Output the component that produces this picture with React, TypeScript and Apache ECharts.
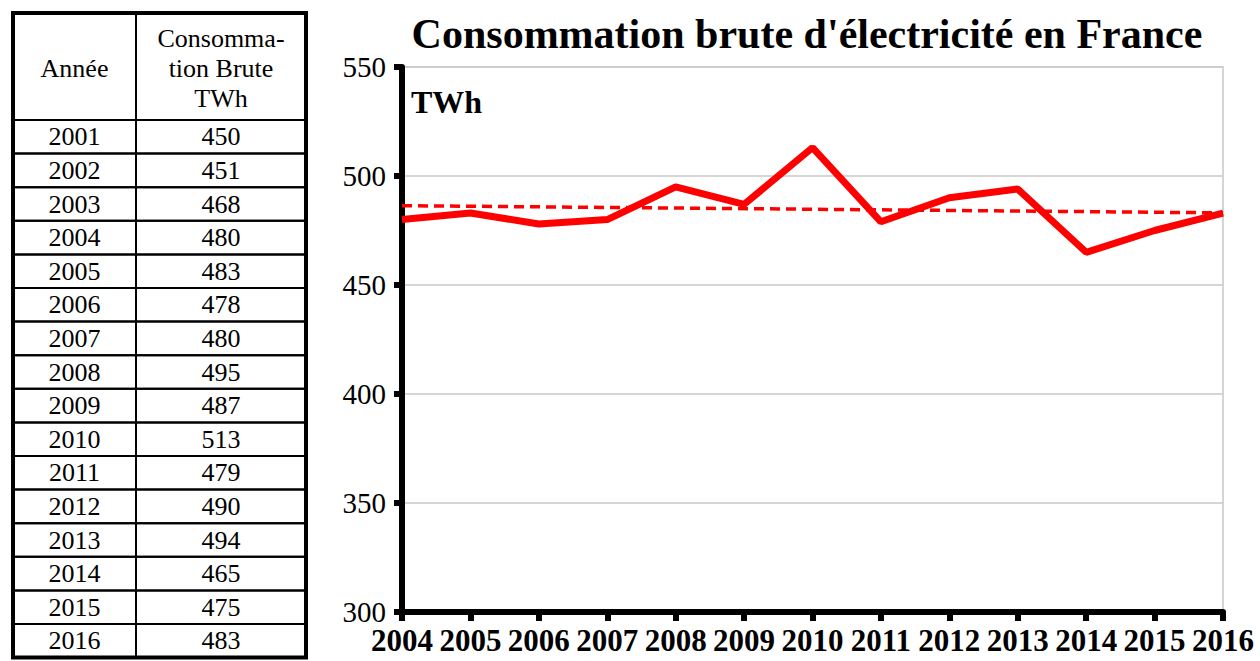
import React, { useEffect, useRef } from "react";
import * as echarts from "echarts";

// Table data (2001-2016)
const tableYears = ["2001","2002","2003","2004","2005","2006","2007","2008","2009","2010","2011","2012","2013","2014","2015","2016"];
const tableValues = [450, 451, 468, 480, 483, 478, 480, 495, 487, 513, 479, 490, 494, 465, 475, 483];
const headerYear = ["Année"];
const headerValue = ["Consomma-", "tion Brute", "TWh"];

// Chart data (2004-2016)
const chartYears = ["2004","2005","2006","2007","2008","2009","2010","2011","2012","2013","2014","2015","2016"];
const chartValues = [480, 483, 478, 480, 495, 487, 513, 479, 490, 494, 465, 475, 483];
// Linear trend line endpoints
const trendStart = 486.4;
const trendEnd = 483.1;

const title = "Consommation brute d'électricité en France";
const unitLabel = "TWh";

const FONT = "'Liberation Serif', 'DejaVu Serif', serif";

export default function App() {
  const ref = useRef<HTMLDivElement>(null);
  useEffect(() => {
    if (!ref.current) return;
    const chart = echarts.init(ref.current, null, { renderer: "svg" });

    const tL = 13, tR = 306, tC = 136, tTop = 13, hBot = 120, rowH = 33.6;
    const graphics: any[] = [];
    tableYears.forEach((y, i) => {
      const top = hBot + i * rowH;
      graphics.push({ type: "rect", shape: { x: tL, y: top, width: tC - tL, height: rowH }, style: { fill: "none", stroke: "#000", lineWidth: 2 } });
      graphics.push({ type: "rect", shape: { x: tC, y: top, width: tR - tC, height: rowH }, style: { fill: "none", stroke: "#000", lineWidth: 2 } });
      graphics.push({ type: "text", style: { text: y, x: (tL + tC) / 2, y: top + rowH / 2, align: "center", verticalAlign: "middle", font: `26px ${FONT}`, fill: "#000" } });
      graphics.push({ type: "text", style: { text: String(tableValues[i]), x: (tC + tR) / 2, y: top + rowH / 2, align: "center", verticalAlign: "middle", font: `26px ${FONT}`, fill: "#000" } });
    });
    graphics.push({ type: "rect", shape: { x: tL, y: tTop, width: tC - tL, height: hBot - tTop }, style: { fill: "none", stroke: "#000", lineWidth: 2 } });
    graphics.push({ type: "rect", shape: { x: tC, y: tTop, width: tR - tC, height: hBot - tTop }, style: { fill: "none", stroke: "#000", lineWidth: 2 } });
    graphics.push({ type: "text", style: { text: headerYear[0], x: (tL + tC) / 2, y: 68, align: "center", verticalAlign: "middle", font: `26px ${FONT}`, fill: "#000" } });
    headerValue.forEach((t, i) => {
      graphics.push({ type: "text", style: { text: t, x: (tC + tR) / 2, y: 38 + i * 30, align: "center", verticalAlign: "middle", font: `26px ${FONT}`, fill: "#000" } });
    });
    graphics.push({ type: "rect", shape: { x: tL, y: tTop, width: tR - tL, height: hBot + rowH * tableYears.length - tTop }, style: { fill: "none", stroke: "#000", lineWidth: 4 } });
    graphics.push({ type: "text", style: { text: unitLabel, x: 411, y: 102, align: "left", verticalAlign: "middle", font: `bold 32px ${FONT}`, fill: "#000" } });

    const trendData = chartYears.map((_, i) => (i === 0 ? trendStart : i === chartYears.length - 1 ? trendEnd : null));

    chart.setOption({
      animation: false,
      backgroundColor: "#fff",
      title: {
        text: title,
        left: 802,
        textAlign: "center",
        top: 8,
        textStyle: { fontFamily: FONT, fontSize: 42, fontWeight: "bold", color: "#000" },
      },
      grid: { left: 402, right: 37, top: 67, bottom: 49, show: true, borderColor: "#c8c8c8", borderWidth: 1.5, backgroundColor: "transparent" },
      xAxis: {
        type: "category",
        data: chartYears,
        boundaryGap: false,
        axisLine: { lineStyle: { color: "#000", width: 6 } },
        axisTick: { show: true, length: 9, lineStyle: { color: "#000", width: 6 } },
        axisLabel: { fontFamily: FONT, fontSize: 31, fontWeight: "bold", color: "#000", margin: 13, interval: 0 },
        splitLine: { show: false },
      },
      yAxis: {
        type: "value",
        min: 300,
        max: 550,
        interval: 50,
        axisLine: { show: true, lineStyle: { color: "#000", width: 6 } },
        axisTick: { show: true, length: 8, lineStyle: { color: "#000", width: 6 } },
        axisLabel: { fontFamily: FONT, fontSize: 29, color: "#000", margin: 16 },
        splitLine: { show: true, lineStyle: { color: "#c8c8c8", width: 1.5 } },
      },
      graphic: graphics,
      series: [
        {
          type: "line",
          data: chartValues,
          symbol: "none",
          lineStyle: { color: "#ff0000", width: 7 },
          z: 3,
        },
        {
          type: "line",
          data: trendData,
          connectNulls: true,
          symbol: "none",
          lineStyle: { color: "#ff0000", width: 3.5, type: [10, 6] },
          z: 2,
        },
      ],
    });
    return () => chart.dispose();
  }, []);
  return <div ref={ref} style={{ position: "fixed", left: 0, top: 0, width: 1260, height: 661 }} />;
}
